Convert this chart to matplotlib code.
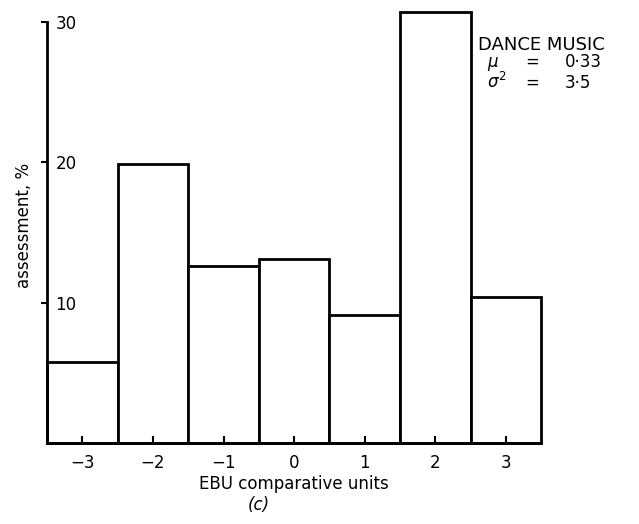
import matplotlib
matplotlib.use("Agg")
import matplotlib.pyplot as plt

units = [-3, -2, -1, 0, 1, 2, 3]
assessment = [5.8, 19.9, 12.6, 13.1, 9.1, 30.7, 10.4]
yticks = [10, 20, 30]

fig = plt.figure(figsize=(6.39, 5.24), dpi=100)
ax = fig.add_axes([0.0736, 0.1546, 0.7735, 0.83])

bars = ax.bar(units, assessment, width=1.0, facecolor="white", edgecolor="black", linewidth=2)
for b in bars:
    b.set_clip_on(False)
ax.set_xlim(-3.5, 3.5)
ax.set_ylim(0, 31)

for s in ["top", "right"]:
    ax.spines[s].set_visible(False)
ax.spines["left"].set_linewidth(2)
ax.spines["bottom"].set_linewidth(2)
ax.spines["left"].set_bounds(0, 30)

ax.set_xticks(units)
ax.set_xticklabels([str(u).replace("-", "\u2212") for u in units], fontsize=12)
ax.tick_params(axis="x", direction="in", length=5, width=1.5, pad=8)
ax.set_yticks(yticks)
ax.set_yticklabels([str(t) for t in yticks], fontsize=12)
ax.tick_params(axis="y", direction="out", length=4, width=1.5, pad=-10)
for lab in ax.get_yticklabels():
    lab.set_horizontalalignment("left")

ax.set_xlabel("EBU comparative units", fontsize=12, labelpad=2)
ax.set_ylabel("assessment, %", fontsize=12, labelpad=6)
fig.text(0.405, 0.026, "(c)", fontsize=12, style="italic", ha="center")

fig.text(0.748, 0.905, "DANCE MUSIC", fontsize=13, ha="left")
fig.text(0.762, 0.872, r"$\mu$", fontsize=12, ha="left")
fig.text(0.822, 0.872, "=", fontsize=12, ha="left")
fig.text(0.884, 0.872, "0·33", fontsize=12, ha="left")
fig.text(0.762, 0.832, r"$\sigma^2$", fontsize=12, ha="left")
fig.text(0.822, 0.832, "=", fontsize=12, ha="left")
fig.text(0.884, 0.832, "3·5", fontsize=12, ha="left")

fig.savefig("out.png", dpi=100)
